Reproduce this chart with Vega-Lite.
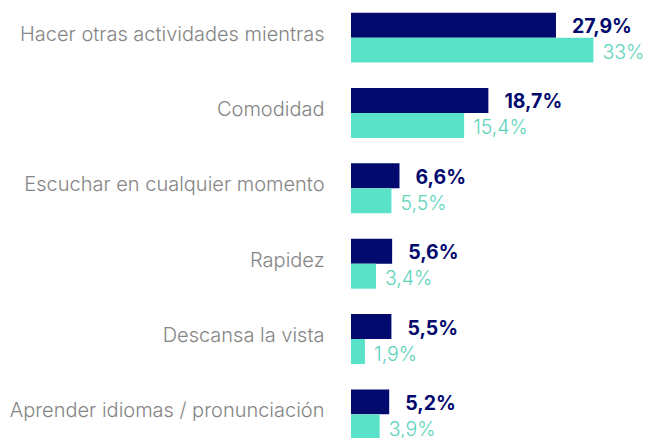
{
  "$schema": "https://vega.github.io/schema/vega-lite/v6.json",
  "width": 299,
  "height": 452,
  "autosize": "none",
  "padding": {"left": 351, "top": 0, "right": 0, "bottom": 0},
  "background": "white",
  "config": {"view": {"stroke": null}},
  "data": {
    "values": [
      {"cat": "Hacer otras actividades mientras", "serie": "a", "value": 27.9, "label": "27,9%"},
      {"cat": "Hacer otras actividades mientras", "serie": "b", "value": 33, "label": "33%"},
      {"cat": "Comodidad\u00a0", "serie": "a", "value": 18.7, "label": "18,7%"},
      {"cat": "Comodidad\u00a0", "serie": "b", "value": 15.4, "label": "15,4%"},
      {"cat": "Escuchar en cualquier momento\u00a0", "serie": "a", "value": 6.6, "label": "6,6%"},
      {"cat": "Escuchar en cualquier momento\u00a0", "serie": "b", "value": 5.5, "label": "5,5%"},
      {"cat": "Rapidez", "serie": "a", "value": 5.6, "label": "5,6%"},
      {"cat": "Rapidez", "serie": "b", "value": 3.4, "label": "3,4%"},
      {"cat": "Descansa la vista\u00a0", "serie": "a", "value": 5.5, "label": "5,5%"},
      {"cat": "Descansa la vista\u00a0", "serie": "b", "value": 1.9, "label": "1,9%"},
      {"cat": "Aprender idiomas / pronunciación", "serie": "a", "value": 5.2, "label": "5,2%"},
      {"cat": "Aprender idiomas / pronunciación", "serie": "b", "value": 3.9, "label": "3,9%"}
    ]
  },
  "encoding": {
    "y": {
      "field": "cat", "type": "nominal", "sort": null,
      "scale": {"paddingInner": 0.337, "paddingOuter": 0.168},
      "axis": {
        "title": null, "domain": false, "ticks": false,
        "labelPadding": 27, "labelFont": "Inter", "labelFontSize": 20,
        "labelFontWeight": 300, "labelColor": "#858585", "labelOffset": -3,
        "labelLimit": 400
      }
    },
    "yOffset": {"field": "serie", "type": "nominal", "scale": {"paddingInner": 0, "paddingOuter": 0}},
    "x": {"field": "value", "type": "quantitative", "scale": {"domain": [0, 40.7], "nice": false}, "axis": null}
  },
  "layer": [
    {
      "mark": {"type": "bar"},
      "encoding": {
        "color": {"field": "serie", "type": "nominal", "scale": {"domain": ["a", "b"], "range": ["#030a6e", "#5ae2c9"]}, "legend": null}
      }
    },
    {
      "transform": [{"filter": "datum.serie === 'a'"}],
      "mark": {"type": "text", "align": "left", "baseline": "middle", "dx": 16, "dy": 2, "font": "Inter", "fontSize": 19.5, "fontWeight": "bold", "color": "#030a6e"},
      "encoding": {"text": {"field": "label"}}
    },
    {
      "transform": [{"filter": "datum.serie === 'b'"}],
      "mark": {"type": "text", "align": "left", "baseline": "middle", "dx": 9, "dy": 3, "font": "Inter", "fontSize": 19.5, "fontWeight": 300, "color": "#5cd3bb"},
      "encoding": {"text": {"field": "label"}}
    }
  ]
}
